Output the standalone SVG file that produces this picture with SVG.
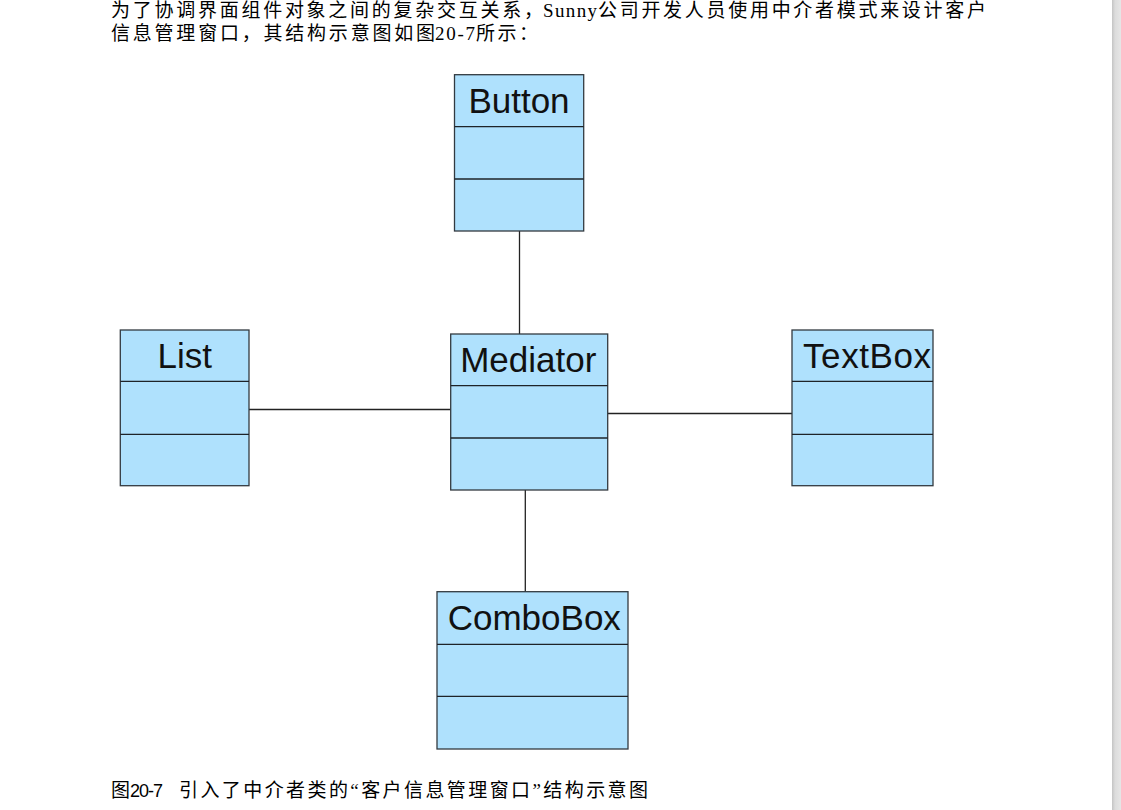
<svg xmlns="http://www.w3.org/2000/svg" width="1121" height="810" viewBox="0 0 1121 810">
<defs>
<linearGradient id="edge" x1="0" y1="0" x2="1" y2="0">
<stop offset="0" stop-color="#c4c4c4"/>
<stop offset="0.35" stop-color="#dcdcdc"/>
<stop offset="1" stop-color="#e6e6e6"/>
</linearGradient>
<style>
.box{fill:#afe1fd;stroke:#333a40;stroke-width:1.3}
.div{stroke:#1e2328;stroke-width:1.3}
.lbl{font-family:"Liberation Sans",Arial,sans-serif;font-size:35px;fill:#111}
.para{font-family:"Liberation Serif","Noto Sans CJK SC",serif;font-size:19px;fill:#000}
.conn{stroke:#222;stroke-width:1.3;fill:none}
</style>
</defs>
<rect x="0" y="0" width="1121" height="810" fill="#ffffff"/>
<rect x="1112" y="0" width="9" height="810" fill="url(#edge)"/>

<g id="intro">
<text class="para" x="111" y="17" textLength="432" lengthAdjust="spacing">为了协调界面组件对象之间的复杂交互关系，</text>
<text class="para" x="543" y="17" textLength="54" lengthAdjust="spacing">Sunny</text>
<text class="para" x="598" y="17" textLength="388" lengthAdjust="spacing">公司开发人员使用中介者模式来设计客户</text>
<text class="para" x="111" y="40" textLength="324" lengthAdjust="spacing">信息管理窗口，其结构示意图如图</text>
<text class="para" x="435" y="40" textLength="40" lengthAdjust="spacing">20-7</text>
<text class="para" x="476" y="40" textLength="62" lengthAdjust="spacing">所示：</text>
</g>

<g id="connectors">
<line class="conn" x1="519.5" y1="231" x2="519.5" y2="334"/>
<line class="conn" x1="249" y1="409.5" x2="450.7" y2="409.5"/>
<line class="conn" x1="607.7" y1="413.5" x2="792" y2="413.5"/>
<line class="conn" x1="525.3" y1="490" x2="525.3" y2="591.7"/>
</g>

<g id="Button">
<rect class="box" x="454.5" y="74.7" width="129.2" height="156.3"/>
<line class="div" x1="454.5" y1="126.7" x2="583.7" y2="126.7"/>
<line class="div" x1="454.5" y1="179" x2="583.7" y2="179"/>
<text class="lbl" x="519" y="113.3" text-anchor="middle">Button</text>
</g>

<g id="List">
<rect class="box" x="120.3" y="330" width="128.7" height="155.7"/>
<line class="div" x1="120.3" y1="381.3" x2="249" y2="381.3"/>
<line class="div" x1="120.3" y1="434.3" x2="249" y2="434.3"/>
<text class="lbl" x="184.7" y="368.3" text-anchor="middle">List</text>
</g>

<g id="Mediator">
<rect class="box" x="450.7" y="334" width="157" height="156"/>
<line class="div" x1="450.7" y1="385.7" x2="607.7" y2="385.7"/>
<line class="div" x1="450.7" y1="438" x2="607.7" y2="438"/>
<text class="lbl" x="528.3" y="372.3" text-anchor="middle">Mediator</text>
</g>

<g id="TextBox">
<rect class="box" x="792" y="330" width="141" height="155.7"/>
<line class="div" x1="792" y1="381.3" x2="933" y2="381.3"/>
<line class="div" x1="792" y1="434.3" x2="933" y2="434.3"/>
<text class="lbl" x="803" y="368.3" textLength="128" lengthAdjust="spacing">TextBox</text>
</g>

<g id="ComboBox">
<rect class="box" x="437" y="591.7" width="191" height="157.3"/>
<line class="div" x1="437" y1="644.3" x2="628" y2="644.3"/>
<line class="div" x1="437" y1="696.3" x2="628" y2="696.3"/>
<text class="lbl" x="534.3" y="630" text-anchor="middle">ComboBox</text>
</g>

<g id="caption">
<text class="para" x="111" y="797">图</text>
<text x="130" y="797" font-family="'Liberation Sans',sans-serif" font-size="18" fill="#000" textLength="33" lengthAdjust="spacing">20-7</text>
<text class="para" x="179" y="797" textLength="469" lengthAdjust="spacing">引入了中介者类的“客户信息管理窗口”结构示意图</text>
</g>
</svg>
